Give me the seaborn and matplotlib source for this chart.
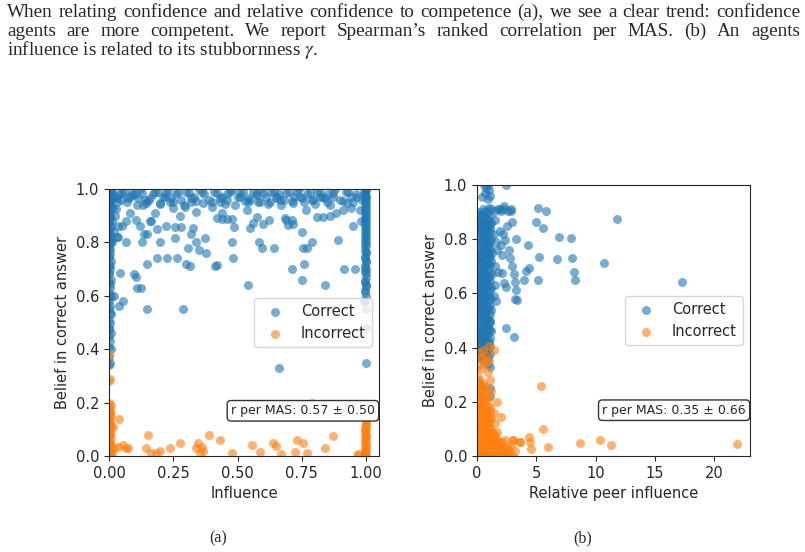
import matplotlib
matplotlib.use('Agg')
import matplotlib.pyplot as plt
import seaborn as sns

# ---- dados do painel (a): influencia vs crenca ----
# coluna em x=0 (corretos)
a_cor_col0_x = [0.0, 0.004, 0.0, 0.008, 0.0, 0.003, 0.0, 0.006, 0.0, 0.004,
                0.0, 0.008, 0.0, 0.003, 0.0, 0.006, 0.0, 0.004, 0.0, 0.008,
                0.0, 0.003, 0.0, 0.006, 0.0, 0.004, 0.0, 0.008, 0.0, 0.003,
                0.0, 0.006, 0.0, 0.004, 0.0, 0.008, 0.0, 0.003, 0.0, 0.006,
                0.002, 0.0, 0.005, 0.0, 0.002, 0.0, 0.005, 0.0, 0.002, 0.0,
                0.005, 0.0, 0.002, 0.0, 0.005, 0.0, 0.002, 0.0, 0.005, 0.0]
a_cor_col0_y = [0.34, 0.35, 0.37, 0.40, 0.41, 0.43, 0.45, 0.46, 0.48, 0.50,
                0.51, 0.53, 0.55, 0.56, 0.58, 0.60, 0.61, 0.63, 0.65, 0.66,
                0.68, 0.70, 0.71, 0.73, 0.75, 0.76, 0.78, 0.80, 0.81, 0.83,
                0.85, 0.86, 0.88, 0.90, 0.91, 0.93, 0.95, 0.96, 0.98, 1.00,
                0.995, 0.975, 0.965, 0.945, 0.935, 0.915, 0.895, 0.875, 0.855, 0.835,
                0.815, 0.795, 0.775, 0.745, 0.715, 0.685, 0.645, 0.595, 0.535, 0.475]
# coluna em x=1 (corretos)
a_cor_col1_x = [1.0, 0.997, 1.0, 0.994, 1.0, 0.997, 1.0, 0.994, 1.0, 0.997,
                1.0, 0.994, 1.0, 0.997, 1.0, 0.994, 1.0, 0.997, 1.0, 0.994,
                1.0, 0.997, 1.0, 0.994, 1.0, 0.997, 1.0, 0.994, 1.0, 1.0,
                1.0, 0.993, 0.985, 0.975, 0.98, 0.99,
                0.996, 1.0, 0.996, 1.0, 0.996, 1.0, 0.996, 1.0, 0.996, 1.0,
                0.996, 1.0, 0.996, 1.0, 0.996, 1.0, 0.996, 1.0, 0.996, 1.0,
                0.996, 1.0, 0.996, 1.0]
a_cor_col1_y = [0.55, 0.58, 0.60, 0.62, 0.64, 0.65, 0.67, 0.69, 0.70, 0.71,
                0.73, 0.74, 0.76, 0.77, 0.79, 0.80, 0.82, 0.83, 0.85, 0.86,
                0.88, 0.89, 0.91, 0.92, 0.94, 0.95, 0.97, 0.98, 1.00, 0.48,
                0.35, 0.58, 0.96, 0.92, 0.88, 0.99,
                0.615, 0.635, 0.655, 0.685, 0.705, 0.725, 0.745, 0.765, 0.785, 0.805,
                0.815, 0.835, 0.845, 0.865, 0.875, 0.895, 0.905, 0.925, 0.935, 0.955,
                0.965, 0.975, 0.985, 0.995]
# faixa superior e pontos espalhados (corretos)
a_cor_spread_x = [0.012, 0.02, 0.03, 0.015, 0.025, 0.01, 0.035, 0.02, 0.03, 0.012,
                  0.04, 0.045, 0.018, 0.008, 0.028,
                  0.06, 0.08, 0.10, 0.12, 0.14, 0.17, 0.19, 0.21, 0.23, 0.26,
                  0.28, 0.30, 0.33, 0.35, 0.37, 0.39, 0.41, 0.44, 0.46, 0.48,
                  0.50, 0.52, 0.55, 0.57, 0.59, 0.61, 0.63, 0.66, 0.68, 0.70,
                  0.72, 0.74, 0.77, 0.79, 0.81, 0.83, 0.85, 0.88, 0.90, 0.92,
                  0.94, 0.96, 0.07, 0.11, 0.15, 0.20, 0.25, 0.29, 0.34, 0.40,
                  0.45, 0.49, 0.53, 0.58, 0.62, 0.67, 0.71, 0.76, 0.80, 0.86,
                  0.91, 0.95,
                  0.044, 0.04, 0.055, 0.018, 0.096, 0.106, 0.109, 0.126, 0.149, 0.149,
                  0.188, 0.225, 0.266, 0.287, 0.301, 0.314, 0.414, 0.421, 0.483, 0.539,
                  0.66, 0.713, 0.752, 0.76, 0.84, 0.914, 0.956,
                  0.13, 0.065, 0.20, 0.256, 0.308, 0.34, 0.35, 0.374, 0.376, 0.48,
                  0.583, 0.594, 0.642, 0.756, 0.77, 0.79, 0.89, 0.75, 0.485, 0.48,
                  0.46, 0.44, 0.42, 0.32, 0.325, 0.28, 0.256, 0.223, 0.185, 0.149,
                  0.136, 0.165, 0.16, 0.12, 0.106, 0.08, 0.052, 0.035, 0.068, 0.60,
                  0.623, 0.684, 0.69, 0.71, 0.717, 0.697, 0.548, 0.561, 0.574, 0.535,
                  0.542, 0.766, 0.807, 0.834, 0.86, 0.883, 0.91, 0.95, 0.94, 0.925,
                  0.964, 0.34, 0.366, 0.40, 0.43, 0.457, 0.438, 0.32, 0.295, 0.275,
                  0.25, 0.236, 0.217, 0.197, 0.178, 0.132, 0.145, 0.113, 0.094, 0.626,
                  0.652, 0.665, 0.717, 0.743, 0.587, 0.509, 0.574, 0.847, 0.873, 0.795,
                  0.82,
                  0.05, 0.09, 0.13, 0.18, 0.22, 0.27, 0.31, 0.36, 0.42, 0.47,
                  0.51, 0.56, 0.60, 0.64, 0.69, 0.73, 0.78, 0.82, 0.87, 0.93,
                  0.03, 0.075, 0.16, 0.24, 0.32, 0.43, 0.54, 0.65, 0.75, 0.84]
a_cor_spread_y = [0.99, 0.97, 0.95, 0.93, 0.90, 0.88, 0.86, 0.84, 0.82, 0.80,
                  0.98, 0.96, 0.975, 0.955, 0.925,
                  0.99, 0.97, 0.98, 1.00, 0.96, 0.98, 0.99, 0.97, 0.995, 0.98,
                  0.96, 0.99, 0.97, 1.00, 0.98, 0.96, 0.99, 0.97, 0.98, 0.995,
                  0.97, 0.99, 0.96, 0.98, 1.00, 0.97, 0.99, 0.98, 0.96, 0.99,
                  0.97, 1.00, 0.98, 0.96, 0.99, 0.97, 0.98, 1.00, 0.96, 0.99,
                  0.97, 0.98, 0.95, 0.94, 0.955, 0.945, 0.95, 0.94, 0.955, 0.95,
                  0.945, 0.94, 0.955, 0.95, 0.945, 0.94, 0.955, 0.95, 0.945, 0.94,
                  0.955, 0.95,
                  0.684, 0.56, 0.58, 0.60, 0.68, 0.67, 0.63, 0.63, 0.55, 0.72,
                  0.74, 0.74, 0.74, 0.55, 0.72, 0.71, 0.71, 0.715, 0.74, 0.64,
                  0.33, 0.70, 0.66, 0.72, 0.64, 0.70, 0.70,
                  0.80, 0.80, 0.80, 0.815, 0.78, 0.80, 0.77, 0.815, 0.76, 0.80,
                  0.80, 0.78, 0.78, 0.78, 0.78, 0.80, 0.81, 0.84, 0.856, 0.886,
                  0.886, 0.886, 0.89, 0.83, 0.853, 0.856, 0.856, 0.86, 0.85, 0.83,
                  0.83, 0.88, 0.88, 0.86, 0.884, 0.91, 0.86, 0.82, 0.88, 0.87,
                  0.885, 0.89, 0.885, 0.885, 0.87, 0.865, 0.853, 0.871, 0.896, 0.92,
                  0.95, 0.92, 0.896, 0.896, 0.90, 0.91, 0.92, 0.86, 0.93, 0.946,
                  0.97, 0.915, 0.946, 0.934, 0.95, 0.96, 0.91, 0.95, 0.934, 0.90,
                  0.93, 0.95, 0.97, 0.946, 0.91, 0.94, 0.946, 0.965, 0.977, 0.95,
                  0.97, 0.96, 0.946, 0.97, 0.95, 0.97, 0.977, 0.95, 0.97, 0.96,
                  0.97,
                  0.985, 0.99, 0.985, 0.99, 0.985, 0.99, 0.985, 0.99, 0.985, 0.99,
                  0.985, 0.99, 0.985, 0.99, 0.985, 0.99, 0.985, 0.99, 0.985, 0.99,
                  0.965, 0.965, 0.965, 0.965, 0.965, 0.965, 0.965, 0.965, 0.965, 0.965]
# incorretos (a)
a_inc_x = [0.0, 0.004, 0.0, 0.008, 0.0, 0.003, 0.0, 0.006, 0.0, 0.004,
           0.0, 0.008, 0.0, 0.003, 0.0, 0.006, 0.0, 0.004, 0.0, 0.008,
           0.0, 0.0, 0.003, 0.0, 0.012, 0.02, 0.015,
           1.0, 0.997, 1.0, 0.994, 1.0, 0.997, 1.0, 0.994, 1.0, 0.997,
           1.0, 0.994, 1.0, 1.0, 0.995, 0.99, 0.97,
           0.04, 0.035, 0.055, 0.068, 0.074, 0.152, 0.143, 0.165, 0.184, 0.197,
           0.236, 0.278, 0.34, 0.347, 0.36, 0.366, 0.353, 0.39, 0.43, 0.48,
           0.555, 0.587, 0.639, 0.65, 0.668, 0.723, 0.732, 0.753, 0.769, 0.788,
           0.84, 0.873, 0.97,
           0.002, 0.0, 0.005, 0.0, 0.002, 0.0, 0.005, 0.0, 0.002, 0.0,
           0.996, 1.0, 0.996, 1.0, 0.996, 1.0, 0.996]
a_inc_y = [0.00, 0.01, 0.02, 0.03, 0.04, 0.05, 0.06, 0.07, 0.08, 0.09,
           0.10, 0.11, 0.12, 0.13, 0.14, 0.15, 0.16, 0.17, 0.18, 0.19,
           0.20, 0.28, 0.29, 0.38, 0.01, 0.03, 0.11,
           0.00, 0.01, 0.02, 0.03, 0.04, 0.05, 0.06, 0.07, 0.08, 0.09,
           0.10, 0.11, 0.12, 0.13, 0.00, 0.01, 0.005,
           0.137, 0.035, 0.04, 0.03, 0.03, 0.079, 0.03, 0.01, 0.012, 0.02,
           0.03, 0.047, 0.03, 0.047, 0.035, 0.02, 0.01, 0.079, 0.06, 0.01,
           0.04, 0.016, 0.047, 0.037, 0.007, 0.016, 0.06, 0.047, 0.01, 0.197,
           0.03, 0.076, 0.007,
           0.005, 0.025, 0.045, 0.065, 0.085, 0.105, 0.125, 0.145, 0.165, 0.185,
           0.015, 0.035, 0.055, 0.075, 0.095, 0.115, 0.005]

# ---- dados do painel (b): influencia relativa vs crenca ----
b_cor_x = [0.6, 0.8, 1.0, 0.7, 0.9, 0.42, 0.9, 1.1, 2.46,
           0.5, 0.8, 1.0, 1.2, 1.5, 1.8, 2.0, 2.3, 2.6, 2.9,
           0.0, 0.3, 0.6, 0.9, 1.2, 1.5,
           0.0, 0.2, 0.5, 0.8, 1.1, 1.4, 1.9, 2.2,
           0.0, 0.3, 0.6, 0.9, 1.2, 1.6, 2.0,
           0.0, 0.2, 0.5, 0.8, 1.0, 1.3, 1.7, 2.1,
           0.0, 0.3, 0.6, 0.9, 1.2, 1.5,
           0.0, 0.2, 0.4, 0.7, 1.0, 1.3, 1.8,
           0.0, 0.3, 0.6, 0.9, 1.2, 1.5,
           0.0, 0.2, 0.5, 0.8, 1.1, 1.4,
           0.0, 0.3, 0.6, 0.9, 1.2,
           0.0, 0.2, 0.5, 0.8, 1.1,
           0.0, 0.3, 0.6, 0.9, 1.2,
           0.0, 0.2, 0.5, 0.8, 1.0,
           0.2, 0.5, 0.8, 0.5, 0.9, 1.1, 1.1, 1.1,
           0.1, 0.4, 0.7, 1.0, 0.15, 0.45, 0.75, 0.1, 0.4, 0.7, 1.0, 0.15, 0.5, 0.8,
           11.76, 17.3, 10.7, 6.92, 7.9, 6.72, 7.98, 8.18, 8.29, 5.1,
           5.83, 4.93, 5.55, 5.21, 5.13, 4.26, 4.34, 4.15, 3.98, 3.3,
           3.28, 3.36, 3.17, 3.17, 3.1, 2.94, 2.8, 3.14, 2.44, 2.88,
           2.94, 2.66, 2.38, 2.24, 2.44, 2.1, 2.52, 2.3, 1.96, 1.62]
b_cor_y = [1.00, 0.99, 0.98, 0.97, 1.00, 0.957, 0.95, 0.96, 1.00,
           0.91, 0.905, 0.915, 0.91, 0.905, 0.91, 0.905, 0.91, 0.905, 0.91,
           0.87, 0.86, 0.88, 0.87, 0.86, 0.87,
           0.83, 0.84, 0.82, 0.83, 0.84, 0.82, 0.83, 0.82,
           0.79, 0.80, 0.78, 0.79, 0.80, 0.79, 0.78,
           0.75, 0.74, 0.76, 0.75, 0.74, 0.75, 0.76, 0.74,
           0.71, 0.72, 0.70, 0.71, 0.72, 0.70,
           0.67, 0.66, 0.68, 0.67, 0.66, 0.67, 0.68,
           0.63, 0.62, 0.64, 0.63, 0.62, 0.63,
           0.59, 0.58, 0.60, 0.59, 0.58, 0.59,
           0.55, 0.54, 0.56, 0.55, 0.54,
           0.51, 0.50, 0.52, 0.51, 0.50,
           0.47, 0.46, 0.48, 0.47, 0.46,
           0.43, 0.42, 0.44, 0.43, 0.42,
           0.39, 0.38, 0.40, 0.35, 0.34, 0.33, 0.25, 0.22,
           0.89, 0.85, 0.81, 0.77, 0.73, 0.69, 0.65, 0.61, 0.57, 0.53, 0.49, 0.45, 0.41, 0.37,
           0.874, 0.643, 0.714, 0.809, 0.805, 0.727, 0.731, 0.68, 0.649, 0.916,
           0.905, 0.862, 0.842, 0.733, 0.651, 0.778, 0.695, 0.682, 0.651, 0.80,
           0.612, 0.575, 0.58, 0.643, 0.671, 0.702, 0.729, 0.44, 0.473, 0.905,
           0.864, 0.76, 0.797, 0.637, 0.624, 0.674, 0.849, 0.922, 0.91, 0.571]
# nucleo denso dos corretos em (b)
b_cor_dense_x = [0.1, 0.5, 0.9, 0.3, 0.7, 1.1, 0.1, 0.5, 0.9, 0.3, 0.7, 1.1,
                 0.1, 0.5, 0.9, 0.3, 0.7, 1.1, 0.1, 0.5, 0.9, 0.3, 0.7, 1.1,
                 0.1, 0.5, 0.9, 0.3, 0.7, 1.1, 0.1, 0.5, 0.9, 0.3, 0.7, 1.1,
                 0.1, 0.5, 0.9, 0.3, 0.7, 1.1, 0.1, 0.5, 0.9, 0.3, 0.7, 1.1,
                 0.1, 0.5, 0.9, 0.3, 0.7, 1.1, 0.1, 0.5, 0.9, 0.3, 0.7, 1.1,
                 0.1, 0.5, 0.9, 0.3, 0.7, 1.1, 0.1, 0.5, 0.9, 0.3, 0.7, 1.1,
                 0.1, 0.5, 0.9, 0.3, 0.7, 1.1, 0.1, 0.5, 0.9, 0.3, 0.7, 1.1,
                 0.1, 0.5, 0.9, 0.3, 0.7, 1.1, 0.1, 0.5, 0.9, 0.3, 0.7, 1.1,
                 0.1, 0.5, 0.9, 0.3, 0.7, 1.1, 0.1, 0.5, 0.9, 0.3, 0.7, 1.1,
                 0.1, 0.5, 0.9]
b_cor_dense_y = [0.36, 0.36, 0.36, 0.375, 0.375, 0.375, 0.39, 0.39, 0.39, 0.405, 0.405, 0.405,
                 0.42, 0.42, 0.42, 0.435, 0.435, 0.435, 0.45, 0.45, 0.45, 0.465, 0.465, 0.465,
                 0.48, 0.48, 0.48, 0.495, 0.495, 0.495, 0.51, 0.51, 0.51, 0.525, 0.525, 0.525,
                 0.54, 0.54, 0.54, 0.555, 0.555, 0.555, 0.57, 0.57, 0.57, 0.585, 0.585, 0.585,
                 0.60, 0.60, 0.60, 0.615, 0.615, 0.615, 0.63, 0.63, 0.63, 0.645, 0.645, 0.645,
                 0.66, 0.66, 0.66, 0.675, 0.675, 0.675, 0.69, 0.69, 0.69, 0.705, 0.705, 0.705,
                 0.72, 0.72, 0.72, 0.735, 0.735, 0.735, 0.75, 0.75, 0.75, 0.765, 0.765, 0.765,
                 0.78, 0.78, 0.78, 0.795, 0.795, 0.795, 0.81, 0.81, 0.81, 0.825, 0.825, 0.825,
                 0.84, 0.84, 0.84, 0.855, 0.855, 0.855, 0.87, 0.87, 0.87, 0.885, 0.885, 0.885,
                 0.90, 0.90, 0.90]
b_inc_x = [0.2, 0.5, 0.8, 1.04, 1.46,
           0.0, 0.3, 0.6, 0.9,
           0.0, 0.2, 0.5, 1.06,
           0.0, 0.3, 0.6, 0.9, 1.2, 1.68,
           0.0, 0.2, 0.5, 0.8, 1.1, 1.4,
           0.0, 0.3, 0.6, 0.9, 1.2, 1.5, 2.04,
           0.0, 0.2, 0.5, 0.8, 1.1, 1.4, 1.7,
           0.0, 0.3, 0.6, 0.9, 1.2, 1.5, 1.8, 2.1, 2.4, 3.03,
           0.0, 0.2, 0.5, 0.8, 1.1, 1.4, 1.7, 2.0, 2.3, 2.6, 2.9, 3.2, 3.64,
           0.0, 0.3, 0.6, 0.9, 1.2, 1.5, 1.8, 2.1, 2.4, 2.7, 3.0,
           0.1, 0.4, 0.7, 1.0, 1.3, 0.15, 0.45, 0.75, 1.05, 0.1, 0.4, 0.7,
           1.0, 0.35,
           21.9, 11.3, 10.36, 8.68, 5.97, 5.52, 5.4, 4.34, 4.54, 4.43, 3.64, 3.03]
b_inc_y = [0.38, 0.39, 0.37, 0.406, 0.39,
           0.33, 0.32, 0.34, 0.31,
           0.27, 0.28, 0.26, 0.282,
           0.22, 0.23, 0.21, 0.22, 0.24, 0.20,
           0.17, 0.18, 0.16, 0.17, 0.18, 0.16,
           0.13, 0.14, 0.12, 0.13, 0.14, 0.12, 0.144,
           0.09, 0.10, 0.08, 0.09, 0.10, 0.08, 0.09,
           0.055, 0.06, 0.05, 0.055, 0.06, 0.05, 0.055, 0.05, 0.06, 0.06,
           0.03, 0.04, 0.02, 0.03, 0.04, 0.02, 0.03, 0.04, 0.02, 0.03, 0.04, 0.02, 0.052,
           0.0, 0.01, 0.0, 0.01, 0.0, 0.01, 0.0, 0.01, 0.0, 0.01, 0.0,
           0.11, 0.12, 0.11, 0.07, 0.07, 0.19, 0.2, 0.15, 0.07, 0.29, 0.25, 0.35,
           0.35, 0.36,
           0.046, 0.04, 0.06, 0.048, 0.033, 0.10, 0.257, 0.07, 0.027, 0.052, 0.052, 0.06]
# nucleo denso dos incorretos em (b)
b_inc_dense_x = [0.1, 0.5, 0.9, 1.3, 1.7, 2.1, 2.5, 0.3, 0.7, 1.1, 1.5, 1.9, 2.3, 2.7,
                 0.1, 0.5, 0.9, 1.3, 1.7, 2.1, 2.5, 0.3, 0.7, 1.1, 1.5, 1.9,
                 0.1, 0.5, 0.9, 1.3, 1.7, 0.3, 0.7, 1.1, 1.5,
                 0.1, 0.5, 0.9, 1.3, 0.3, 0.7, 1.1, 0.1, 0.5, 0.9, 0.3, 0.7, 1.1,
                 0.1, 0.5, 0.9, 0.3, 0.7, 1.1, 0.1, 0.5, 0.9, 0.3, 0.7,
                 0.1, 0.5, 0.9, 0.3, 0.7, 0.1, 0.5, 0.3, 0.7, 0.1, 0.5]
b_inc_dense_y = [0.0, 0.0, 0.0, 0.0, 0.0, 0.0, 0.0, 0.015, 0.015, 0.015, 0.015, 0.015, 0.015, 0.015,
                 0.03, 0.03, 0.03, 0.03, 0.03, 0.03, 0.03, 0.045, 0.045, 0.045, 0.045, 0.045,
                 0.06, 0.06, 0.06, 0.06, 0.06, 0.075, 0.075, 0.075, 0.075,
                 0.09, 0.09, 0.09, 0.09, 0.105, 0.105, 0.105, 0.12, 0.12, 0.12, 0.135, 0.135, 0.135,
                 0.15, 0.15, 0.15, 0.165, 0.165, 0.165, 0.18, 0.18, 0.18, 0.195, 0.195,
                 0.21, 0.21, 0.21, 0.225, 0.225, 0.24, 0.24, 0.255, 0.255, 0.27, 0.27]

legenda = ['Correct', 'Incorrect']
caption = ['When relating confidence and relative confidence to competence (a), we see a clear trend: confidence',
           'agents are more competent.  We report Spearman\u2019s ranked correlation per MAS. (b) An agents',
           r'influence is related to its stubbornness $\gamma$.']
corr_a = 'r per MAS: 0.57 \u00b1 0.50'
corr_b = 'r per MAS: 0.35 \u00b1 0.66'

sns.set_style('ticks')
plt.rcParams['font.family'] = ['DejaVu Sans']
plt.rcParams['mathtext.fontset'] = 'stix'

fig = plt.figure(figsize=(8.05, 5.52), dpi=100)
ax_a = fig.add_axes([109/805, 96/552, 270/805, 267/552])
ax_b = fig.add_axes([477/805, 96/552, 273/805, 271/552])

def painel(ax, cx, cy, ix, iy, xlabel, texto, xticks):
    sns.scatterplot(x=cx, y=cy, ax=ax, color='tab:blue', alpha=0.6, s=42,
                    linewidth=0, label=legenda[0])
    sns.scatterplot(x=ix, y=iy, ax=ax, color='tab:orange', alpha=0.6, s=42,
                    linewidth=0, label=legenda[1])
    ax.set_ylim(0, 1)
    ax.set_xlim(left=0)
    ax.set_xticks(xticks)
    ax.set_xlabel(xlabel, fontsize=10.5)
    ax.set_ylabel('Belief in correct answer', fontsize=10.5)
    ax.tick_params(labelsize=10.5)
    ax.legend(loc='center right', fontsize=10.5)
    ax.text(0.985, 0.145, texto, transform=ax.transAxes, ha='right', va='bottom',
            fontsize=9, bbox=dict(boxstyle='round,pad=0.3', facecolor='white',
                                  edgecolor='#333333'))

painel(ax_a, a_cor_col0_x + a_cor_col1_x + a_cor_spread_x,
       a_cor_col0_y + a_cor_col1_y + a_cor_spread_y,
       a_inc_x, a_inc_y, 'Influence', corr_a, [0, 0.25, 0.5, 0.75, 1.0])
ax_a.set_xlim(0, 1.05)
painel(ax_b, b_cor_x + b_cor_dense_x, b_cor_y + b_cor_dense_y,
       b_inc_x + b_inc_dense_x, b_inc_y + b_inc_dense_y, 'Relative peer influence',
       corr_b, [0, 5, 10, 15, 20])
ax_a.set_xticklabels(['0.00', '0.25', '0.50', '0.75', '1.00'])

# legenda do texto (justificada nas duas primeiras linhas)
serif = ['Liberation Serif', 'DejaVu Serif']
renderer = fig.canvas.get_renderer()
x0, x1 = 7, 800
for i, linha in enumerate(caption):
    y = 1 - (17 + 19*i)/552
    if i == 2:
        fig.text(x0/805, y, linha, family=serif, fontsize=13.8, va='baseline', ha='left')
        continue
    palavras = linha.split()
    objs = [fig.text(0, y, p, family=serif, fontsize=13.8, va='baseline', ha='left')
            for p in palavras]
    larguras = [t.get_window_extent(renderer).width for t in objs]
    gap = (x1 - x0 - sum(larguras)) / (len(palavras) - 1)
    pos = x0
    for t, w in zip(objs, larguras):
        t.set_x(pos/805)
        pos += w + gap
fig.text(218/805, 1 - 542/552, '(a)', family=serif, fontsize=11.5, ha='center', va='baseline')
fig.text(583/805, 1 - 542/552, '(b)', family=serif, fontsize=11.5, ha='center', va='baseline')

fig.savefig('out.png', dpi=100)
